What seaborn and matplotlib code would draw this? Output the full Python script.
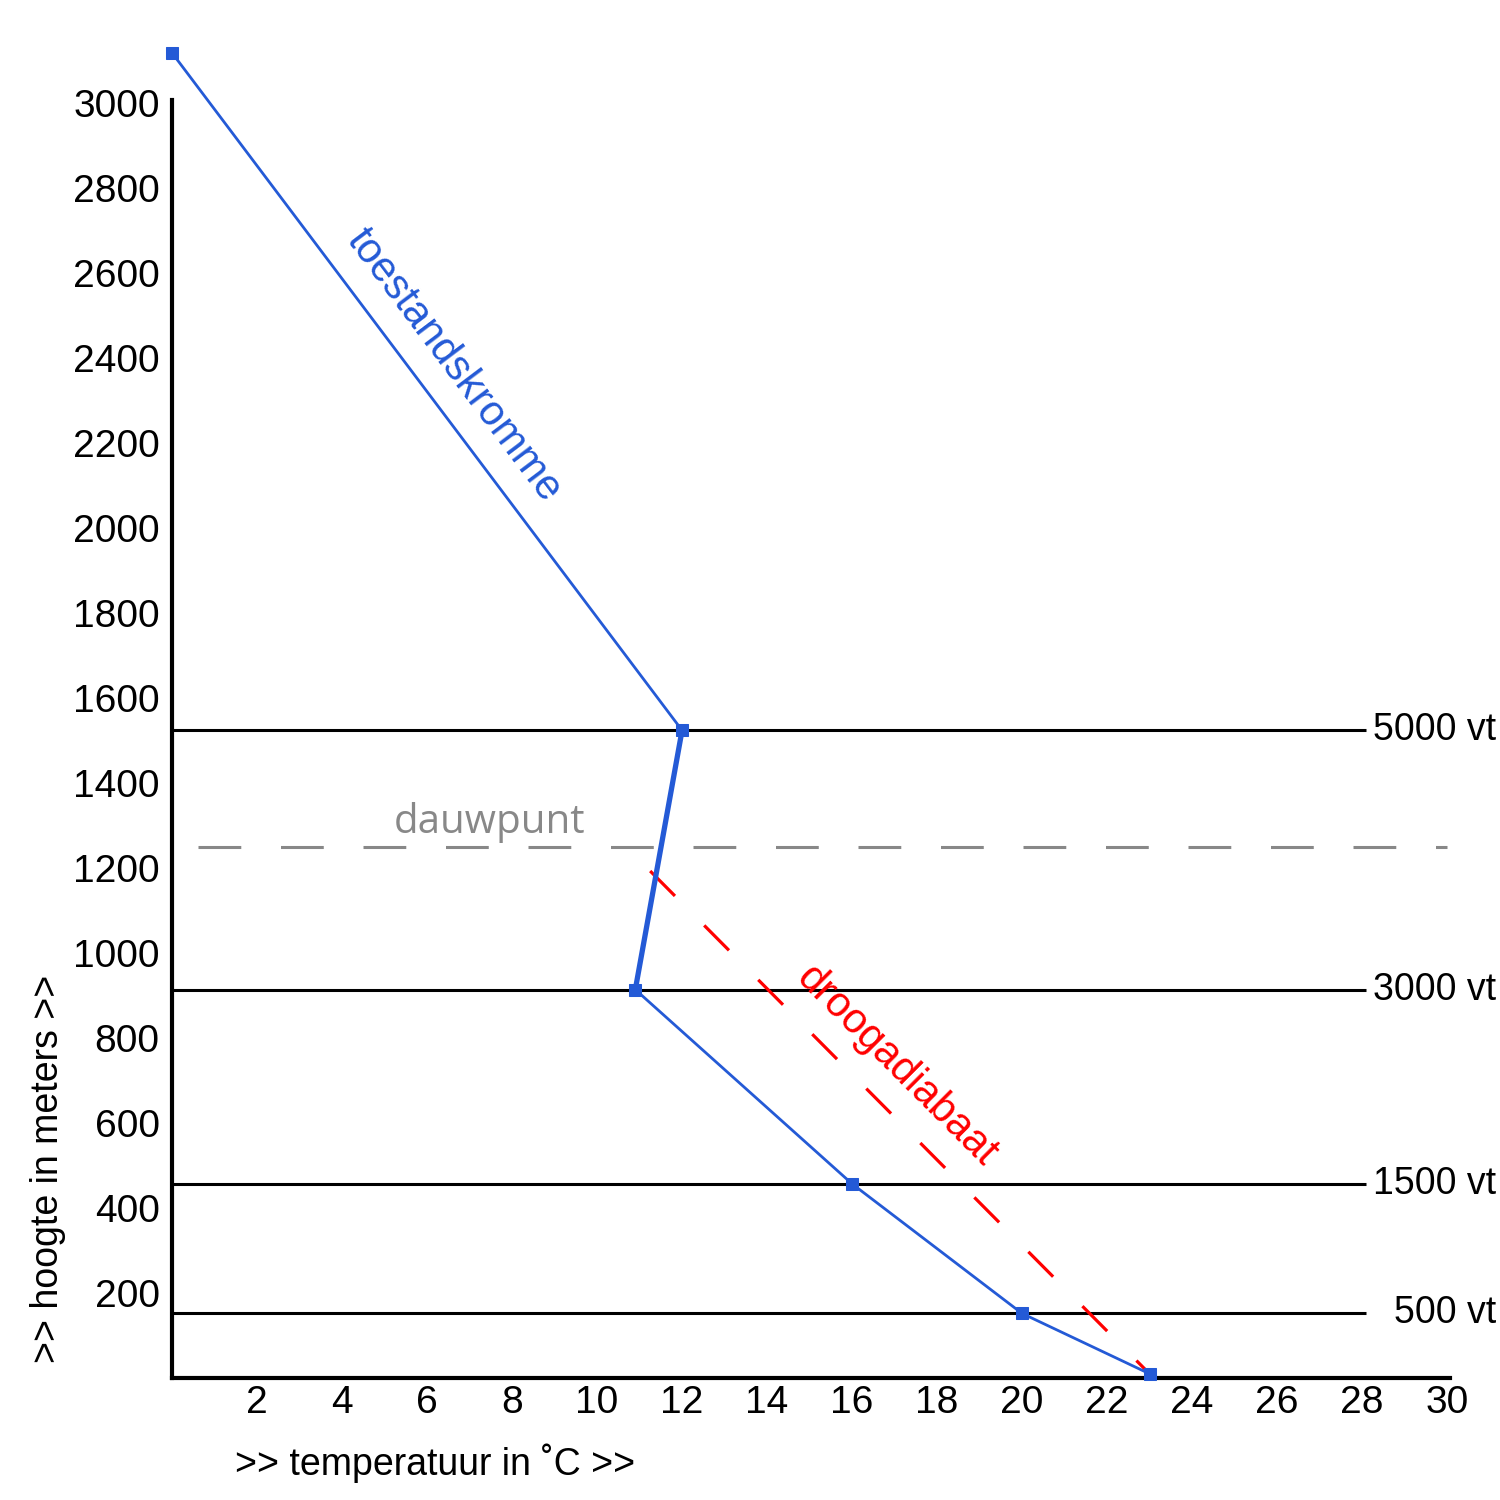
import seaborn as sns
import matplotlib.pyplot as plt
import pandas as pd

# temperature profile (toestandskromme)
curve_temp = [0, 12, 10.9, 16, 20, 23]
curve_height = [3118, 1524, 914, 457, 152, 10]

# dry adiabat (droogadiabaat)
dry_temp = [11.25, 23]
dry_height = [1193, 10]

# flight levels in feet, drawn at their height in metres
level_height = [1524, 914, 457, 152]
level_labels = ["5000 vt", "3000 vt", "1500 vt", "500 vt"]

dew_height = 1250

x_ticks = list(range(2, 31, 2))
y_ticks = list(range(200, 3001, 200))

blue = "#245ad6"

sns.set_style("white")
plt.rcParams['font.family'] = ['Liberation Sans', 'DejaVu Sans']
plt.rcParams['text.color'] = 'black'
plt.rcParams['axes.labelcolor'] = 'black'
plt.rcParams['xtick.color'] = 'black'
plt.rcParams['ytick.color'] = 'black'

fig = plt.figure(figsize=(15, 15), dpi=100)
ax = fig.add_axes([0.1147, 0.0813, 0.852, 0.852])

# horizontal level lines
ax.hlines(level_height, 0, 28.1, color="black", lw=2.2, zorder=2)
for h, lab in zip(level_height, level_labels):
    ax.text(31.15, h, lab, ha="right", va="center", fontsize=27, clip_on=False)

# dew point line
ax.hlines(dew_height, 0.6, 30, color="#888888", lw=2.2,
          linestyles=(0, (14, 13)), zorder=2)
ax.text(7.48, 1306, "dauwpunt", color="#888888", fontsize=29,
        ha="center", va="center", family=["Open Sans", "DejaVu Sans"])

# dry adiabat
dry = pd.DataFrame({"temp": dry_temp, "height": dry_height})
sns.lineplot(data=dry, x="temp", y="height", sort=False, ax=ax,
             color="red", lw=2.3, linestyle=(0, (11, 13)), zorder=3)

# temperature curve
curve = pd.DataFrame({"temp": curve_temp, "height": curve_height})
sns.lineplot(data=curve, x="temp", y="height", sort=False, ax=ax,
             color=blue, lw=2.0, marker="s", markersize=8,
             markeredgecolor=blue, clip_on=False, zorder=4)
# the inversion part is drawn thicker
inv = curve.iloc[1:3]
sns.lineplot(data=inv, x="temp", y="height", sort=False, ax=ax,
             color=blue, lw=3.8, zorder=4)

ax.text(6.62, 2383, "toestandskromme", color=blue, fontsize=30,
        rotation=-53, rotation_mode="anchor", ha="center", va="center")
ax.text(17.05, 734, "droogadiabaat", color="red", fontsize=30,
        rotation=-45, rotation_mode="anchor", ha="center", va="center")

ax.set_xlim(0, 30.07)
ax.set_ylim(0, 3007)
ax.set_xticks(x_ticks)
ax.set_yticks(y_ticks)
ax.tick_params(axis="both", length=0, labelsize=28)
ax.tick_params(axis="y", pad=9)
ax.tick_params(axis="x", pad=5)

for side in ["top", "right"]:
    ax.spines[side].set_visible(False)
for side in ["left", "bottom"]:
    ax.spines[side].set_color("black")
    ax.spines[side].set_linewidth(3)

ax.set_xlabel(">> temperatuur in ˚C >>", fontsize=27)
ax.xaxis.set_label_coords(0.206, -0.051)
ax.set_ylabel(">> hoogte in meters >>", fontsize=27)
ax.yaxis.set_label_coords(-0.083, 0.164)

fig.savefig("out.png", dpi=100)
